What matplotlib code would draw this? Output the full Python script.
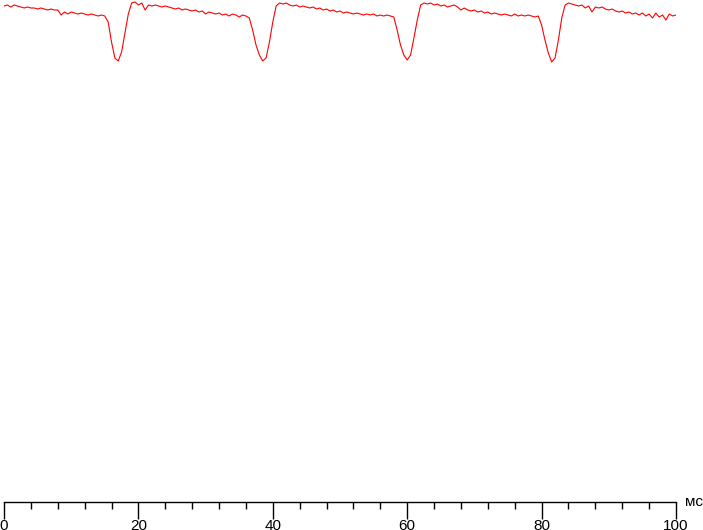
import numpy as np
import matplotlib
matplotlib.use("Agg")
import matplotlib.pyplot as plt
from matplotlib.ticker import MultipleLocator

# Helligkeit (relativ), Abtastung alle 0.5 ms
step_ms = 0.5
brightness = [
    94, 95, 93, 95, 94, 93, 92, 93, 92, 92,
    91, 92, 91, 90, 91, 90, 90, 85, 88, 86,
    88, 87, 86, 87, 86, 85, 86, 85, 84, 85,
    84, 78, 58, 42, 39, 48, 67, 86, 97, 98,
    95, 97, 90, 95, 94, 95, 94, 93, 94, 93,
    92, 91, 92, 90, 91, 90, 89, 90, 88, 89,
    86, 88, 87, 86, 87, 85, 86, 84, 86, 85,
    83, 85, 84, 82, 70, 55, 45, 39, 42, 58,
    78, 94, 97, 96, 97, 95, 94, 95, 93, 94,
    93, 92, 93, 91, 92, 90, 91, 89, 90, 88,
    89, 87, 88, 87, 86, 87, 86, 85, 86, 85,
    86, 84, 85, 84, 85, 84, 83, 70, 55, 45,
    40, 45, 62, 80, 95, 97, 96, 97, 95, 96,
    94, 95, 93, 94, 95, 93, 90, 92, 90, 89,
    90, 88, 89, 87, 88, 86, 87, 86, 85, 86,
    85, 84, 86, 84, 85, 84, 85, 84, 83, 84,
    75, 60, 47, 38, 42, 60, 82, 95, 97, 96,
    95, 94, 95, 92, 94, 88, 93, 92, 93, 91,
    90, 91, 89, 88, 89, 87, 88, 86, 87, 85,
    87, 84, 86, 82, 87, 83, 85, 80, 86, 84,
    85,
]
time_ms = np.arange(len(brightness)) * step_ms

x_major = [0, 20, 40, 60, 80, 100]
unit_label = "мс"

plt.rcParams['font.family'] = ['Liberation Sans', 'DejaVu Sans']

W, H = 703, 530
fig = plt.figure(figsize=(W / 100, H / 100), dpi=100)
ax = fig.add_axes([4 / W, 28 / H, 672 / W, 502 / H])

ax.plot(time_ms, brightness, color='#ff0000', linewidth=0.8)

ax.set_xlim(0, 100)
ax.set_ylim(-402, 100)

for s in ['top', 'left', 'right']:
    ax.spines[s].set_visible(False)
ax.spines['bottom'].set_linewidth(1.0)
ax.set_yticks([])

ax.set_xticks(x_major)
ax.xaxis.set_minor_locator(MultipleLocator(4))
ax.tick_params(axis='x', which='major', length=12, width=1.0, pad=0,
               labelsize=11, colors='black')
ax.tick_params(axis='x', which='minor', length=5, width=1.0)

ax.text(685 / W, (H - 502) / H, unit_label, transform=fig.transFigure,
        fontsize=11, ha='left', va='center')

fig.savefig("out.png", dpi=100)
